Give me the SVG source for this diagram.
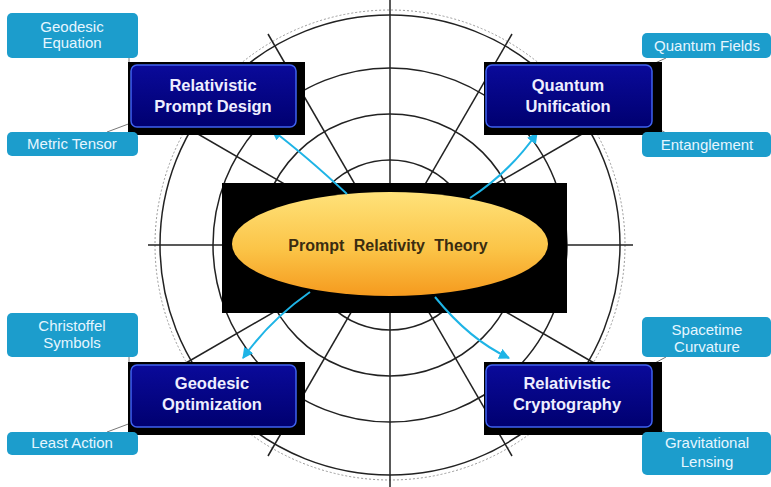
<svg xmlns="http://www.w3.org/2000/svg" width="771" height="487" viewBox="0 0 771 487">
<defs>
<linearGradient id="ell" x1="0" y1="0" x2="0" y2="1">
<stop offset="0" stop-color="#ffe27a"/>
<stop offset="0.55" stop-color="#fbc447"/>
<stop offset="1" stop-color="#f59a1e"/>
</linearGradient>
<linearGradient id="blu" x1="0" y1="0" x2="0" y2="1">
<stop offset="0" stop-color="#0a0a9a"/>
<stop offset="1" stop-color="#000070"/>
</linearGradient>
<marker id="ah" viewBox="0 0 10 10" refX="9" refY="5" markerWidth="5.5" markerHeight="5.5" orient="auto">
<path d="M0,0 L10,5 L0,10 z" fill="#1eb4e6"/>
</marker>
<style>
.grid{stroke:#222;stroke-width:1.5;fill:none}
.dot{stroke:#999;stroke-width:1;stroke-dasharray:2 2;fill:none}
.shadow{fill:#000}
.main{fill:url(#blu);stroke:#3f62f0;stroke-width:1.5}
.mt{font-family:"Liberation Sans",Arial,sans-serif;font-weight:bold;font-size:16.5px;fill:#eeeeff;text-anchor:middle}
.sub{fill:#1c9dcc}
.st{font-family:"Liberation Sans",Arial,sans-serif;font-size:15px;fill:#e6f6ff;text-anchor:middle}
.arr{stroke:#1eb4e6;stroke-width:2;fill:none;marker-end:url(#ah)}
.thin{stroke:#777;stroke-width:1;fill:none}
</style>
</defs>
<rect width="771" height="487" fill="#fff"/>
<g id="grid">
<circle class="dot" cx="390" cy="245" r="235"/>
<circle class="grid" cx="390" cy="245" r="230"/>
<circle class="grid" cx="390" cy="245" r="177"/>
<circle class="grid" cx="390" cy="245" r="131"/>
<circle class="grid" cx="390" cy="245" r="85"/>
<line class="grid" x1="390" y1="0" x2="390" y2="487"/>
<line class="grid" x1="148" y1="245" x2="633" y2="245"/>
<line class="grid" x1="179" y1="123" x2="601" y2="367"/>
<line class="grid" x1="601" y1="123" x2="179" y2="367"/>
<line class="grid" x1="268" y1="34" x2="512" y2="456"/>
<line class="grid" x1="512" y1="34" x2="268" y2="456"/>
</g>
<g id="center">
<rect class="shadow" x="222" y="183" width="345" height="130"/>
<ellipse cx="390" cy="244" rx="158" ry="52" fill="url(#ell)"/>
<text x="388" y="251" font-family="Liberation Sans,Arial,sans-serif" font-weight="bold" font-size="16px" fill="#3a2c10" text-anchor="middle" word-spacing="5">Prompt Relativity Theory</text>
</g>
<g id="connectors">
<path class="arr" d="M347,194 Q305,155 272,130"/>
<path class="arr" d="M470,198 Q510,172 537,133"/>
<path class="arr" d="M310,292 Q270,320 243,358"/>
<path class="arr" d="M435,297 Q470,340 509,358"/>
<line class="thin" x1="129" y1="58" x2="129" y2="64"/>
<line class="thin" x1="107" y1="132" x2="131" y2="123"/>
<line class="thin" x1="653" y1="64" x2="666" y2="58"/>
<line class="thin" x1="653" y1="126" x2="666" y2="133"/>
<line class="thin" x1="129" y1="357" x2="129" y2="364"/>
<line class="thin" x1="107" y1="432" x2="131" y2="423"/>
<line class="thin" x1="653" y1="364" x2="666" y2="357"/>
<line class="thin" x1="653" y1="426" x2="666" y2="433"/>
</g>
<g id="rpd">
<rect class="shadow" x="128" y="62" width="177" height="73"/>
<rect class="main" x="131" y="65" width="165" height="62" rx="6"/>
<text class="mt" x="213" y="91">Relativistic</text>
<text class="mt" x="213" y="112">Prompt Design</text>
</g>
<g id="qu">
<rect class="shadow" x="484" y="62" width="178" height="73"/>
<rect class="main" x="486" y="65" width="166" height="62" rx="6"/>
<text class="mt" x="568" y="91">Quantum</text>
<text class="mt" x="568" y="112">Unification</text>
</g>
<g id="go">
<rect class="shadow" x="128" y="362" width="177" height="73"/>
<rect class="main" x="131" y="365" width="165" height="62" rx="6"/>
<text class="mt" x="212" y="389">Geodesic</text>
<text class="mt" x="212" y="410">Optimization</text>
</g>
<g id="rc">
<rect class="shadow" x="484" y="362" width="178" height="73"/>
<rect class="main" x="486" y="365" width="166" height="62" rx="6"/>
<text class="mt" x="567" y="389">Relativistic</text>
<text class="mt" x="567" y="410">Cryptography</text>
</g>
<g id="ge">
<rect class="sub" x="7" y="13" width="131" height="45" rx="5"/>
<text class="st" x="72" y="32">Geodesic</text>
<text class="st" x="72" y="48">Equation</text>
</g>
<g id="mtn">
<rect class="sub" x="7" y="132" width="131" height="24" rx="5"/>
<text class="st" x="72" y="149">Metric Tensor</text>
</g>
<g id="qf">
<rect class="sub" x="642" y="33" width="129" height="25" rx="5"/>
<text class="st" x="707" y="51">Quantum Fields</text>
</g>
<g id="ent">
<rect class="sub" x="642" y="132" width="129" height="25" rx="5"/>
<text class="st" x="707" y="150">Entanglement</text>
</g>
<g id="cs">
<rect class="sub" x="7" y="313" width="131" height="44" rx="5"/>
<text class="st" x="72" y="331">Christoffel</text>
<text class="st" x="72" y="348">Symbols</text>
</g>
<g id="la">
<rect class="sub" x="7" y="432" width="131" height="23" rx="5"/>
<text class="st" x="72" y="448">Least Action</text>
</g>
<g id="sc">
<rect class="sub" x="642" y="317" width="129" height="40" rx="5"/>
<text class="st" x="707" y="335">Spacetime</text>
<text class="st" x="707" y="352">Curvature</text>
</g>
<g id="gl">
<rect class="sub" x="642" y="432" width="129" height="43" rx="5"/>
<text class="st" x="707" y="448">Gravitational</text>
<text class="st" x="707" y="467">Lensing</text>
</g>
</svg>
